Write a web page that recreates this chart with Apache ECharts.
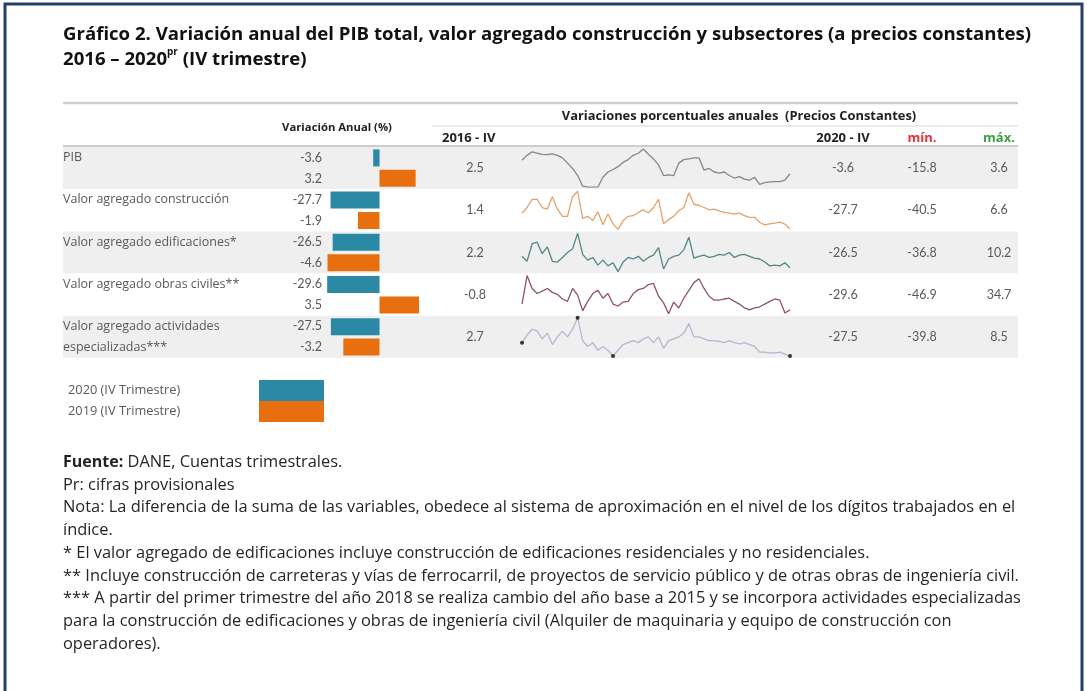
<!DOCTYPE html>
<html>
<head>
<meta charset="utf-8">
<title>Gráfico 2</title>
<script src="https://cdn.jsdelivr.net/npm/echarts@6/dist/echarts.min.js"></script>
<style>
  html, body { margin: 0; padding: 0; background: #fff; }
  #chart { width: 1087px; height: 691px; }
</style>
</head>
<body>
<div id="chart"></div>
<script>
// --- datos ---
const rowLabels = ['PIB', 'Valor agregado construcción', 'Valor agregado edificaciones*', 'Valor agregado obras civiles**', 'Valor agregado actividades\nespecializadas***'];
const seriesNames = ['2020 (IV Trimestre)', '2019 (IV Trimestre)'];
const anual2020 = [-3.6, -27.7, -26.5, -29.6, -27.5];
const anual2019 = [3.2, -1.9, -4.6, 3.5, -3.2];
const valor2016IV = [2.5, 1.4, 2.2, -0.8, 2.7];
const valor2020IV = [-3.6, -27.7, -26.5, -29.6, -27.5];
const minimos = [-15.8, -40.5, -36.8, -46.9, -39.8];
const maximos = [3.6, 6.6, 10.2, 34.7, 8.5];
const colHeaders = ['2016 - IV', '2020 - IV', 'mín.', 'máx.'];

// sparklines, valores trimestrales
const sparkPIB = [7.8,9.2,10.2,9.8,9.5,9.4,9.6,9.2,8.5,7.0,5.5,3.5,0.5,0.2,0.2,0.2,3.0,4.5,5.2,6.0,7.2,8.0,9.2,9.8,11.0,9.5,8.2,6.5,3.5,3.7,3.5,7.0,8.0,8.2,8.5,8.5,5.0,5.5,4.5,4.2,4.5,3.5,2.8,3.2,2.5,2.2,3.0,1.0,1.5,1.7,1.8,1.8,2.2,4.0];
const sparkConstruccion = [5.3,7.0,9.5,9.5,7.0,6.5,10.3,6.5,4.3,4.3,10.3,12.0,3.7,4.3,3.0,5.7,1.7,5.0,2.0,0.3,3.0,4.3,4.5,5.5,6.3,5.3,7.0,9.5,2.0,3.3,4.3,6.0,7.0,11.5,8.0,7.7,7.0,6.3,6.5,6.0,5.5,5.3,5.0,5.3,4.5,4.0,4.0,2.5,1.7,2.0,2.2,2.5,1.9,0.5];
const sparkEdificaciones = [4.5,3.2,7.8,8.2,5.2,7.0,3.2,3.0,4.2,5.5,6.5,10.5,5.0,3.5,4.2,2.2,3.5,2.0,2.8,0.5,3.0,4.2,3.8,4.5,3.2,4.2,4.8,6.8,1.2,3.8,4.5,4.8,6.2,9.5,4.0,4.5,4.8,4.2,4.5,5.0,4.8,5.5,4.2,4.8,5.0,4.5,4.0,3.8,3.0,2.0,2.2,2.0,2.8,1.5];
const sparkObrasCiviles = [3.0,10.3,7.0,5.7,6.3,7.0,6.0,5.5,4.3,3.7,7.0,5.3,1.3,3.7,5.7,6.5,4.5,5.7,3.0,2.5,3.5,3.7,5.7,6.7,7.0,8.0,8.3,5.0,3.3,0.5,3.5,2.0,4.5,6.5,8.5,9.5,7.0,5.0,4.0,4.0,4.3,4.5,3.7,3.0,2.0,1.5,2.0,2.3,3.0,3.7,4.3,4.0,0.7,1.5];
const sparkEspecializadas = [4.0,6.0,7.5,7.0,5.0,6.5,3.5,5.5,7.0,5.5,7.5,10.5,4.5,3.0,4.0,2.0,3.0,2.0,0.5,2.0,3.5,4.0,4.5,4.0,5.0,5.5,4.0,5.5,2.5,4.5,5.0,5.5,6.5,9.0,5.5,5.5,5.0,4.5,4.5,4.3,4.0,4.5,4.0,3.7,4.0,3.5,3.0,1.5,1.5,1.3,1.3,1.5,1.0,0.5];

// --- estilos / layout ---
const FONT = '"Open Sans", Lato, sans-serif';
const NUMFONT = 'Lato, "Open Sans", sans-serif';
const TEXT = '#595959';
const TOP = 147, ROW_H = 42.2, H = ROW_H * rowLabels.length;
const sparks = [sparkPIB, sparkConstruccion, sparkEdificaciones, sparkObrasCiviles, sparkEspecializadas];
const sparkColors = ['#7f8b85', '#e3a26e', '#538787', '#8f5266', '#b0b9cf'];
const colX = [475, 843, 922, 999];
const colValues = [valor2016IV, valor2020IV, minimos, maximos];

const grid = [], xAxis = [], yAxis = [], series = [];
const hidden = { axisLine: { show: false }, axisTick: { show: false } };

// fondo de filas + nombres
let g = grid.push({ left: 63, width: 955, top: TOP, height: H }) - 1;
xAxis.push({ gridIndex: g, type: 'value', show: false });
yAxis.push(Object.assign({
  gridIndex: g, type: 'category', inverse: true, data: rowLabels,
  splitArea: { show: true, areaStyle: { color: ['#efefef', '#ffffff'] } },
  axisLabel: { inside: true, margin: 0, interval: 0, fontFamily: FONT, fontSize: 12.5, color: TEXT, lineHeight: 21,
    formatter: s => s.indexOf('\n') >= 0 ? s : s + '\n ' }
}, hidden));

// barras de variacion anual (cada serie con su propia escala)
g = grid.push({ left: 324, width: 106, top: TOP, height: H }) - 1;
const xa2020 = xAxis.push({ gridIndex: g, type: 'value', min: -31.4, max: 28.5, show: false }) - 1;
const xa2019 = xAxis.push({ gridIndex: g, type: 'value', min: -4.91, max: 4.47, show: false }) - 1;
const yaBar = yAxis.push({ gridIndex: g, type: 'category', inverse: true, data: rowLabels, show: false }) - 1;
const subLabels = [];
anual2020.forEach((v, i) => { subLabels.push(v.toFixed(1)); subLabels.push(anual2019[i].toFixed(1)); });
yAxis.push(Object.assign({
  gridIndex: g, type: 'category', inverse: true, position: 'left', data: subLabels,
  axisLabel: { margin: 2, interval: 0, fontFamily: NUMFONT, fontSize: 12.5, color: TEXT }
}, hidden));
series.push({ name: seriesNames[0], type: 'bar', xAxisIndex: xa2020, yAxisIndex: yaBar, data: anual2020,
  barWidth: 17, barGap: '20%', itemStyle: { color: '#2b89a5' }, silent: true });
series.push({ name: seriesNames[1], type: 'bar', xAxisIndex: xa2019, yAxisIndex: yaBar, data: anual2019,
  barWidth: 17, barGap: '20%', itemStyle: { color: '#e86f10' }, silent: true });

// sparklines
sparks.forEach((d, i) => {
  const gi = grid.push({ left: 522, width: 268, top: TOP + i * ROW_H + 2, height: ROW_H - 4 }) - 1;
  const xa = xAxis.push({ gridIndex: gi, type: 'category', boundaryGap: false, data: d.map((_, k) => k), show: false }) - 1;
  const ya = yAxis.push({ gridIndex: gi, type: 'value', min: 'dataMin', max: 'dataMax', show: false }) - 1;
  let data = d;
  if (i === sparks.length - 1) {
    // primer, ultimo, minimo y maximo marcados
    const iMin = d.indexOf(Math.min(...d)), iMax = d.indexOf(Math.max(...d));
    data = d.map((v, k) => (k === 0 || k === d.length - 1 || k === iMin || k === iMax)
      ? { value: v, symbol: 'circle', symbolSize: 4, itemStyle: { color: '#333' } } : v);
  }
  series.push({ type: 'line', xAxisIndex: xa, yAxisIndex: ya, data: data, symbol: 'circle', symbolSize: 0,
    showAllSymbol: true, lineStyle: { color: sparkColors[i], width: 1.3 }, itemStyle: { color: sparkColors[i] }, silent: true });
});

// columnas numericas
colValues.forEach((vals, c) => {
  const gi = grid.push({ left: colX[c], width: 1, top: TOP, height: H }) - 1;
  xAxis.push({ gridIndex: gi, type: 'value', show: false });
  yAxis.push(Object.assign({
    gridIndex: gi, type: 'category', inverse: true, data: vals.map(v => v.toFixed(1)),
    axisLabel: { margin: 0, align: 'center', interval: 0, fontFamily: NUMFONT, fontSize: 12.5, color: TEXT }
  }, hidden));
});

function txt(x, y, text, style) {
  return { type: 'text', x: x, y: y, silent: true,
    style: Object.assign({ text: text, fontFamily: FONT, fontSize: 11.5, fill: '#222', align: 'left', verticalAlign: 'middle' }, style || {}) };
}
function hline(x1, x2, y, color, w) {
  return { type: 'line', silent: true, shape: { x1: x1, y1: y, x2: x2, y2: y }, style: { stroke: color, lineWidth: w } };
}

const footnotes = '{b|Fuente:} DANE, Cuentas trimestrales.\n' +
  'Pr: cifras provisionales\n' +
  'Nota: La diferencia de la suma de las variables, obedece al sistema de aproximación en el nivel de los dígitos trabajados en el\n' +
  'índice.\n' +
  '* El valor agregado de edificaciones incluye construcción de edificaciones residenciales y no residenciales.\n' +
  '** Incluye construcción de carreteras y vías de ferrocarril, de proyectos de servicio público y de otras obras de ingeniería civil.\n' +
  '*** A partir del primer trimestre del año 2018 se realiza cambio del año base a 2015 y se incorpora actividades especializadas\n' +
  'para la construcción de edificaciones y obras de ingeniería civil (Alquiler de maquinaria y equipo de construcción con\n' +
  'operadores).';

const graphic = [
  { type: 'rect', silent: true, z: 100, shape: { x: 5, y: 4, width: 1077, height: 760 },
    style: { fill: 'none', stroke: '#263f66', lineWidth: 3 } },
  txt(63, 22, 'Gráfico 2. Variación anual del PIB total, valor agregado construcción y subsectores (a precios constantes)\n2016 – 2020{sup|pr} (IV trimestre)', {
    fontSize: 18.6, fontWeight: 'bold', fill: '#111', lineHeight: 25, verticalAlign: 'top',
    rich: { sup: { fontSize: 10, fontWeight: 'bold', fontFamily: FONT, fill: '#111', verticalAlign: 'top', lineHeight: 25 } } }),
  hline(63, 1018, 103, '#cdcdcd', 2.5),
  hline(432, 1018, 126, '#d6d6d6', 1),
  hline(63, 1018, 146, '#cdcdcd', 2),
  txt(337, 128, 'Variación Anual (%)', { fontWeight: 'bold', fontSize: 11.3, align: 'center' }),
  txt(739, 116, 'Variaciones porcentuales anuales  (Precios Constantes)', { fontWeight: 'bold', fontSize: 12.9, align: 'center' }),
  txt(442, 138, colHeaders[0], { fontWeight: 'bold', fontSize: 13 }),
  txt(colX[1], 138, colHeaders[1], { fontWeight: 'bold', fontSize: 13, align: 'center' }),
  txt(colX[2], 138, colHeaders[2], { fontWeight: 'bold', fontSize: 13, align: 'center', fill: '#e8323c' }),
  txt(colX[3], 138, colHeaders[3], { fontWeight: 'bold', fontSize: 13, align: 'center', fill: '#3aa341' }),
  txt(63, 451, footnotes, { fontSize: 16.4, lineHeight: 22.7, verticalAlign: 'top', fill: '#262626',
    rich: { b: { fontSize: 16, fontWeight: 'bold', fontFamily: FONT, fill: '#222', lineHeight: 22.7 } } })
];

const chart = echarts.init(document.getElementById('chart'), null, { renderer: 'canvas' });
chart.setOption({
  animation: false,
  backgroundColor: '#ffffff',
  textStyle: { fontFamily: FONT },
  legend: {
    data: seriesNames, left: 63, top: 375, orient: 'vertical', align: 'right',
    itemWidth: 65, itemHeight: 21, itemGap: 0, icon: 'rect', selectedMode: false,
    formatter: n => '{n|' + n + '}',
    textStyle: { rich: { n: { width: 186, align: 'left', fontFamily: FONT, fontSize: 12.8, color: TEXT } } }
  },
  grid: grid,
  xAxis: xAxis,
  yAxis: yAxis,
  series: series,
  graphic: graphic
});
</script>
</body>
</html>
